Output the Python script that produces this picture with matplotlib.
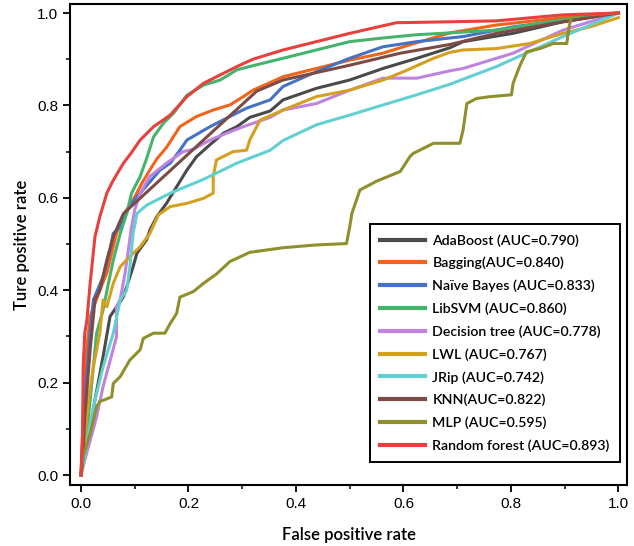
import matplotlib
matplotlib.use("Agg")
import matplotlib.pyplot as plt
from matplotlib.ticker import MultipleLocator

# ---------------- data ----------------
labels = ["AdaBoost (AUC=0.790)", "Bagging(AUC=0.840)", "Naïve Bayes (AUC=0.833)",
          "LibSVM (AUC=0.860)", "Decision tree (AUC=0.778)", "LWL (AUC=0.767)",
          "JRip (AUC=0.742)", "KNN(AUC=0.822)", "MLP (AUC=0.595)",
          "Random forest (AUC=0.893)"]
colors = ["#4a4a4a", "#f26419", "#4472c4", "#45b36b", "#c084e0", "#d4a020",
          "#62d0d2", "#7d4b45", "#8f902c", "#e8403c"]

ada_fpr = [0, 0.003, 0.041, 0.054, 0.079, 0.097, 0.104, 0.122, 0.128, 0.141, 0.159, 0.178, 0.197, 0.215, 0.240,
           0.265, 0.290, 0.314, 0.352, 0.376, 0.438, 0.500, 0.562, 0.625, 0.687, 0.711, 0.804, 0.897, 1.0]
ada_tpr = [0, 0.02, 0.256, 0.343, 0.386, 0.451, 0.480, 0.509, 0.530, 0.559, 0.588, 0.624, 0.660, 0.689, 0.715,
           0.740, 0.754, 0.774, 0.788, 0.812, 0.837, 0.855, 0.880, 0.902, 0.925, 0.938, 0.956, 0.981, 1.0]

bag_fpr = [0, 0.007, 0.017, 0.035, 0.048, 0.066, 0.085, 0.100, 0.113, 0.128, 0.141, 0.159, 0.184, 0.215, 0.246,
           0.277, 0.302, 0.320, 0.376, 0.438, 0.500, 0.562, 0.600, 0.687, 0.773, 0.897, 1.0]
bag_tpr = [0, 0.234, 0.343, 0.400, 0.437, 0.523, 0.574, 0.602, 0.631, 0.660, 0.684, 0.709, 0.754, 0.776, 0.790,
           0.801, 0.819, 0.833, 0.862, 0.880, 0.898, 0.913, 0.927, 0.957, 0.974, 0.990, 1.0]

nb_fpr = [0, 0.007, 0.017, 0.023, 0.041, 0.054, 0.060, 0.073, 0.091, 0.104, 0.147, 0.166, 0.184, 0.197, 0.240,
          0.277, 0.308, 0.352, 0.376, 0.438, 0.500, 0.562, 0.625, 0.687, 0.711, 0.804, 1.0]
nb_tpr = [0, 0.162, 0.307, 0.379, 0.429, 0.487, 0.523, 0.537, 0.584, 0.602, 0.660, 0.675, 0.703, 0.725, 0.754,
          0.776, 0.794, 0.812, 0.841, 0.873, 0.902, 0.927, 0.938, 0.946, 0.949, 0.970, 1.0]

svm_fpr = [0, 0.007, 0.017, 0.029, 0.041, 0.051, 0.060, 0.073, 0.085, 0.094, 0.110, 0.122, 0.135, 0.153, 0.172,
           0.197, 0.228, 0.259, 0.290, 0.320, 0.376, 0.438, 0.500, 0.562, 0.625, 0.687, 0.773, 0.897, 1.0]
svm_tpr = [0, 0.054, 0.162, 0.307, 0.357, 0.415, 0.465, 0.523, 0.566, 0.610, 0.646, 0.685, 0.732, 0.761, 0.783,
           0.822, 0.844, 0.855, 0.877, 0.886, 0.902, 0.920, 0.938, 0.946, 0.953, 0.957, 0.963, 0.985, 1.0]

dt_fpr = [0, 0.007, 0.029, 0.041, 0.066, 0.066, 0.073, 0.082, 0.088, 0.094, 0.100, 0.110, 0.128, 0.159, 0.190,
          0.209, 0.240, 0.271, 0.302, 0.352, 0.376, 0.438, 0.500, 0.562, 0.625, 0.687, 0.711, 0.804, 0.897, 1.0]
dt_tpr = [0, 0.032, 0.126, 0.191, 0.299, 0.364, 0.380, 0.437, 0.487, 0.537, 0.574, 0.610, 0.646, 0.675, 0.700,
          0.705, 0.725, 0.740, 0.754, 0.774, 0.790, 0.804, 0.833, 0.859, 0.859, 0.875, 0.880, 0.913, 0.963, 1.0]

lwl_fpr = [0, 0.005, 0.014, 0.023, 0.035, 0.041, 0.048, 0.060, 0.073, 0.091, 0.110, 0.128, 0.144, 0.166, 0.197,
           0.228, 0.246, 0.246, 0.252, 0.283, 0.308, 0.314, 0.333, 0.376, 0.438, 0.500, 0.562, 0.600, 0.656,
           0.687, 0.711, 0.773, 0.835, 0.897, 0.947, 1.0]
lwl_tpr = [0, 0.054, 0.162, 0.234, 0.307, 0.379, 0.364, 0.415, 0.451, 0.473, 0.494, 0.523, 0.563, 0.581, 0.588,
           0.599, 0.610, 0.646, 0.682, 0.700, 0.703, 0.725, 0.768, 0.790, 0.819, 0.833, 0.855, 0.873, 0.902,
           0.915, 0.920, 0.923, 0.934, 0.956, 0.970, 0.99]

jrip_fpr = [0, 0.007, 0.017, 0.026, 0.041, 0.060, 0.073, 0.085, 0.091, 0.097, 0.104, 0.122, 0.166, 0.228, 0.290,
            0.352, 0.376, 0.438, 0.500, 0.562, 0.625, 0.687, 0.773, 0.897, 1.0]
jrip_tpr = [0, 0.040, 0.112, 0.162, 0.234, 0.307, 0.379, 0.400, 0.451, 0.523, 0.566, 0.584, 0.610, 0.640, 0.675,
            0.703, 0.724, 0.758, 0.779, 0.801, 0.823, 0.846, 0.884, 0.949, 1.0]

knn_fpr = [0, 0.003, 0.007, 0.017, 0.026, 0.035, 0.048, 0.060, 0.079, 0.327, 0.376, 0.500, 0.594, 0.687, 0.773,
           0.897, 1.0]
knn_tpr = [0, 0.030, 0.126, 0.271, 0.379, 0.400, 0.465, 0.516, 0.566, 0.831, 0.855, 0.887, 0.913, 0.932, 0.956,
           0.981, 1.0]

mlp_fpr = [0, 0.004, 0.017, 0.029, 0.035, 0.057, 0.060, 0.073, 0.091, 0.110, 0.116, 0.135, 0.156, 0.166, 0.178,
           0.184, 0.209, 0.228, 0.252, 0.277, 0.314, 0.376, 0.438, 0.494, 0.500, 0.504, 0.519, 0.550, 0.594,
           0.612, 0.618, 0.656, 0.705, 0.711, 0.718, 0.736, 0.761, 0.801, 0.804, 0.817, 0.829, 0.854, 0.879,
           0.904, 0.907, 0.913, 1.0]
mlp_tpr = [0, 0.040, 0.090, 0.148, 0.159, 0.169, 0.198, 0.213, 0.249, 0.271, 0.296, 0.307, 0.307, 0.328, 0.350,
           0.385, 0.397, 0.415, 0.435, 0.462, 0.482, 0.492, 0.498, 0.501, 0.537, 0.566, 0.617, 0.636, 0.657,
           0.689, 0.696, 0.718, 0.718, 0.747, 0.804, 0.815, 0.819, 0.823, 0.848, 0.887, 0.916, 0.923, 0.934,
           0.934, 0.963, 0.994, 1.0]

rf_fpr = [0, 0.003, 0.004, 0.007, 0.011, 0.017, 0.026, 0.035, 0.048, 0.060, 0.079, 0.094, 0.110, 0.135, 0.166,
          0.197, 0.228, 0.259, 0.290, 0.320, 0.376, 0.438, 0.500, 0.587, 0.687, 0.773, 0.897, 1.0]
rf_tpr = [0, 0.090, 0.234, 0.307, 0.335, 0.415, 0.516, 0.559, 0.610, 0.638, 0.675, 0.698, 0.725, 0.754, 0.779,
          0.819, 0.848, 0.866, 0.884, 0.900, 0.920, 0.938, 0.956, 0.979, 0.981, 0.983, 0.996, 1.0]

fprs = [ada_fpr, bag_fpr, nb_fpr, svm_fpr, dt_fpr, lwl_fpr, jrip_fpr, knn_fpr, mlp_fpr, rf_fpr]
tprs = [ada_tpr, bag_tpr, nb_tpr, svm_tpr, dt_tpr, lwl_tpr, jrip_tpr, knn_tpr, mlp_tpr, rf_tpr]

x_ticks = [0.0, 0.2, 0.4, 0.6, 0.8, 1.0]
y_ticks = [0.0, 0.2, 0.4, 0.6, 0.8, 1.0]

# ---------------- figure ----------------
plt.rcParams['font.family'] = ['Liberation Sans', 'DejaVu Sans']
fig = plt.figure(figsize=(6.34, 5.46), dpi=100)
ax = fig.add_axes([70 / 634, 1 - 485 / 546, (627 - 70) / 634, (485 - 4) / 546])

for fx, ty, lab, col in zip(fprs, tprs, labels, colors):
    ax.plot(fx, ty, color=col, lw=2.2, label=lab, solid_joinstyle='round')

ax.set_xlim(-0.0205, 1.016)
ax.set_ylim(-0.0216, 1.0195)
ax.set_xticks(x_ticks)
ax.set_yticks(y_ticks)
ax.set_xticklabels([f"{v:.1f}" for v in x_ticks])
ax.set_yticklabels([f"{v:.1f}" for v in y_ticks])
ax.xaxis.set_minor_locator(MultipleLocator(0.1))
ax.yaxis.set_minor_locator(MultipleLocator(0.1))
ax.tick_params(which='major', direction='out', length=5, width=1.3, labelsize=11)
ax.tick_params(which='minor', direction='out', length=3, width=1.1)
for s in ax.spines.values():
    s.set_linewidth(1.5)

lab_font = {'family': ['Lato', 'DejaVu Sans'], 'size': 12, 'weight': 'semibold'}
ax.set_xlabel("False positive rate", fontdict=lab_font, labelpad=12)
ax.set_ylabel("Ture positive rate", fontdict=lab_font, labelpad=5)

leg = ax.legend(loc='lower right', bbox_to_anchor=(0.987, 0.048), borderaxespad=0,
                fancybox=False, framealpha=1, edgecolor='black',
                prop={'family': ['Lato', 'DejaVu Sans'], 'size': 10.2, 'weight': 'semibold'},
                handlelength=3.2, handletextpad=0.5, labelspacing=0.72,
                borderpad=0.7)
leg.get_frame().set_linewidth(1.4)
for h in leg.get_lines():
    h.set_linewidth(3.0)

fig.savefig("out.png", dpi=100)
